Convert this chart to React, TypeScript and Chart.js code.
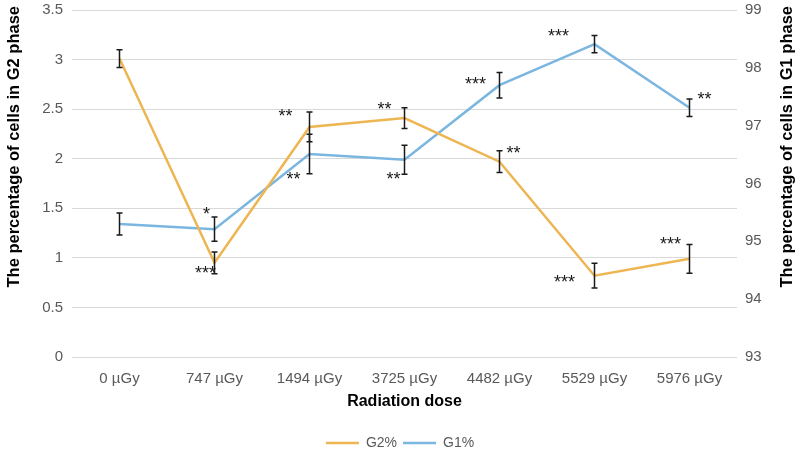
import React, { useEffect, useRef } from "react";
import { Chart, registerables } from "chart.js";

Chart.register(...registerables);

const categories = ["0 µGy", "747 µGy", "1494 µGy", "3725 µGy", "4482 µGy", "5529 µGy", "5976 µGy"];
const g2Values = [3.01, 0.95, 2.32, 2.41, 1.97, 0.82, 0.99];
const g2Errors = [0.09, 0.11, 0.15, 0.105, 0.11, 0.125, 0.145];
const g1Values = [95.3, 95.21, 96.51, 96.41, 97.7, 98.41, 97.31];
const g1Errors = [0.19, 0.21, 0.34, 0.25, 0.22, 0.15, 0.15];
const g2Sig = ["", "***", "**", "**", "**", "***", "***"];
const g1Sig = ["", "*", "**", "**", "***", "***", "**"];
const leftTitle = "The percentage of cells in G2 phase";
const rightTitle = "The percentage of cells in G1 phase";

// label placement offsets (pixels, relative to the point)
const g2SigOffset: [number, number][] = [[0, 0], [-9, 8], [-24, -13], [-20, -11], [14, -11], [-30, 4], [-19, -17]];
const g1SigOffset: [number, number][] = [[0, 0], [-8, -17], [-16, 23], [-11, 17], [-24, -3], [-36, -10], [15, -11]];

const ORANGE = "#EEB553";
const BLUE = "#7BB6E0";
const FONT = "'Liberation Sans', Arial, sans-serif";

const errorBarPlugin = {
  id: "errorBars",
  afterDatasetsDraw(chart: any) {
    const ctx = chart.ctx;
    const sets = [
      { idx: 0, err: g2Errors, vals: g2Values, axis: "y", sig: g2Sig, off: g2SigOffset },
      { idx: 1, err: g1Errors, vals: g1Values, axis: "y2", sig: g1Sig, off: g1SigOffset },
    ];
    ctx.save();
    for (const s of sets) {
      const meta = chart.getDatasetMeta(s.idx);
      const scale = chart.scales[s.axis];
      meta.data.forEach((pt: any, i: number) => {
        const x = pt.x;
        const yTop = scale.getPixelForValue(s.vals[i] + s.err[i]);
        const yBot = scale.getPixelForValue(s.vals[i] - s.err[i]);
        ctx.strokeStyle = "#1a1a1a";
        ctx.lineWidth = 1.5;
        ctx.beginPath();
        ctx.moveTo(x, yTop);
        ctx.lineTo(x, yBot);
        ctx.moveTo(x - 3, yTop);
        ctx.lineTo(x + 3, yTop);
        ctx.moveTo(x - 3, yBot);
        ctx.lineTo(x + 3, yBot);
        ctx.stroke();
      });
    }
    ctx.fillStyle = "#1a1a1a";
    ctx.font = `18px ${FONT}`;
    ctx.textAlign = "center";
    ctx.textBaseline = "middle";
    for (const s of sets) {
      const meta = chart.getDatasetMeta(s.idx);
      meta.data.forEach((pt: any, i: number) => {
        if (!s.sig[i]) return;
        const [dx, dy] = s.off[i];
        ctx.fillText(s.sig[i], pt.x + dx, pt.y + dy + 3);
      });
    }
    // axis titles, reading bottom-to-top
    const y2 = chart.scales.y2;
    const drawTitle = (text: string, x: number) => {
      ctx.save();
      ctx.translate(x, chart.chartArea.top - 4);
      ctx.rotate(-Math.PI / 2);
      ctx.font = `bold 16.5px ${FONT}`;
      ctx.fillStyle = "#000";
      ctx.textAlign = "right";
      ctx.textBaseline = "middle";
      ctx.fillText(text, 0, 0);
      ctx.restore();
    };
    drawTitle(rightTitle, y2.right - 13);
    drawTitle(leftTitle, chart.scales.y.left + 14);
    ctx.restore();
  },
};

export default function App() {
  const canvasRef = useRef<HTMLCanvasElement | null>(null);

  useEffect(() => {
    if (!canvasRef.current) return;
    Chart.defaults.font.family = FONT;
    const noPad = (s: any, w: number) => {
      s.width = w;
      s.paddingTop = 0;
      s.paddingBottom = 0;
    };
    const chart = new Chart(canvasRef.current, {
      type: "line",
      data: {
        labels: categories,
        datasets: [
          {
            label: "G2%",
            data: g2Values,
            borderColor: ORANGE,
            backgroundColor: ORANGE,
            borderWidth: 2.5,
            pointRadius: 0,
            tension: 0,
            yAxisID: "y",
          },
          {
            label: "G1%",
            data: g1Values,
            borderColor: BLUE,
            backgroundColor: BLUE,
            borderWidth: 2.5,
            pointRadius: 0,
            tension: 0,
            yAxisID: "y2",
          },
        ],
      },
      options: {
        animation: false,
        responsive: true,
        maintainAspectRatio: false,
        layout: { padding: { top: 10, left: 0, right: 0, bottom: -6 } },
        plugins: {
          tooltip: { enabled: false },
          legend: {
            position: "bottom",
            labels: {
              usePointStyle: true,
              pointStyle: "line",
              pointStyleWidth: 33,
              padding: 6,
              color: "#595959",
              font: { size: 14, family: FONT },
            },
          },
        },
        scales: {
          x: {
            offset: true,
            grid: { display: false },
            border: { display: false },
            ticks: { color: "#595959", font: { size: 15 }, padding: 5, maxRotation: 0 },
            title: {
              display: true,
              text: "Radiation dose",
              color: "#000",
              font: { size: 16, weight: "bold" },
              padding: { top: 0, bottom: 19 },
            },
            afterFit: (s: any) => {
              s.height = 73;
            },
          },
          y: {
            position: "left",
            min: 0,
            max: 3.5,
            grid: { color: "#D9D9D9", lineWidth: 1, drawTicks: false },
            border: { display: false },
            ticks: {
              stepSize: 0.5,
              color: "#595959",
              font: { size: 15 },
              padding: 9,
              callback: (v: any) => `${v}`,
            },
            afterFit: (s: any) => noPad(s, 72),
          },
          y2: {
            position: "right",
            min: 93,
            max: 99,
            grid: { display: false, drawTicks: false },
            border: { display: false },
            ticks: {
              stepSize: 1,
              color: "#595959",
              font: { size: 15 },
              padding: 8,
              callback: (v: any) => `${v}`,
            },
            afterFit: (s: any) => noPad(s, 63),
          },
        },
      },
      plugins: [errorBarPlugin],
    } as any);
    return () => chart.destroy();
  }, []);

  return (
    <div style={{ position: "absolute", left: 0, top: 0, width: 800, height: 454, background: "#fff" }}>
      <canvas ref={canvasRef} />
    </div>
  );
}
